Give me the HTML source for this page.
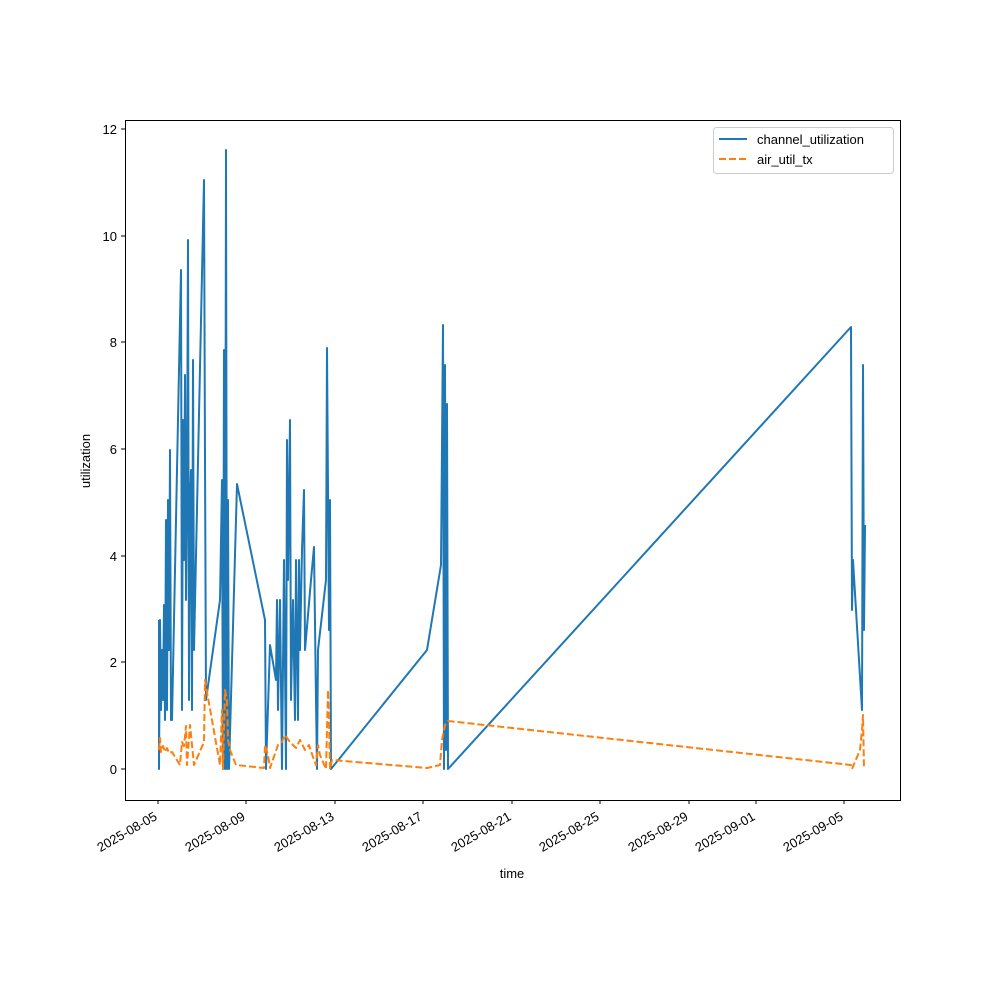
<!DOCTYPE html>
<html><head><meta charset="utf-8"><style>
html,body{margin:0;padding:0;background:#fff;}
svg text{font-family:"Liberation Sans","DejaVu Sans",sans-serif;font-size:13px;fill:#000;}
</style></head><body>
<svg width="1000" height="1000" viewBox="0 0 1000 1000" xmlns="http://www.w3.org/2000/svg">
<rect width="1000" height="1000" fill="#fff"/>
<defs><clipPath id="c"><rect x="125" y="120" width="775" height="680"/></clipPath></defs>
<g clip-path="url(#c)" fill="none" stroke-linejoin="round">
<polyline stroke="#1f77b4" stroke-width="2" points="159,620 159,769 160,620 161,710 162,650 163,700 164,605 165,720 166,520 167,710 168,500 169,650 170,450 171,720 172,720 181,270 182,710 183,420 184,560 185,375 186,600 187,490 188,240 189,700 190,500 191,470 192,710 193,360 194,650 204,180 205,460 206,700 220,600 222,480 223,769 224,350 225,769 226,150 227,769 228,500 229,769 237,484 265,620 266,769 270,645 276,680 277,600 278,710 280,600 282,769 284,560 286,769 287,440 288,580 290,420 291,700 293,600 295,720 296,560 298,720 299,560 300,650 302,550 304,490 305,650 311,580 314,547 316,700 317,769 318,650 326,580 327,348 329,630 330,500 331,769 427,650 441,565 443,325 444,769 445,365 446,750 447,404 448,769 851,327 852,610 853,560 862,710 863,365 864,630 865,525"/>
<polyline stroke="#ff7f0e" stroke-width="2" stroke-dasharray="7,3" points="159,750 160,738 161,752 163,746 165,752 167,748 169,753 172,752 180,765 182,742 184,746 186,726 187,765 190,725 192,745 194,765 204,742 205,680 207,692 220,765 222,710 223,769 225,690 227,700 228,740 230,750 236,765 264,768 265,745 268,755 270,768 278,745 282,742 285,735 290,742 296,748 300,740 305,750 309,745 313,757 316,765 318,745 320,755 326,769 328,690 329,720 330,769 332,760 427,768 440,765 442,740 445,725 448,721 851,765 852,769 860,750 862,730 863,715 864,769"/>
</g>
<rect x="125.5" y="120.5" width="775" height="680" fill="none" stroke="#000" stroke-width="1"/>
<g stroke="#000" stroke-width="1">
<line x1="125" x2="121" y1="769" y2="769"/><line x1="125" x2="121" y1="662" y2="662"/><line x1="125" x2="121" y1="556" y2="556"/><line x1="125" x2="121" y1="449" y2="449"/><line x1="125" x2="121" y1="342" y2="342"/><line x1="125" x2="121" y1="236" y2="236"/><line x1="125" x2="121" y1="129" y2="129"/>
<line x1="158" x2="158" y1="800" y2="804"/><line x1="246" x2="246" y1="800" y2="804"/><line x1="335" x2="335" y1="800" y2="804"/><line x1="423" x2="423" y1="800" y2="804"/><line x1="512" x2="512" y1="800" y2="804"/><line x1="600" x2="600" y1="800" y2="804"/><line x1="689" x2="689" y1="800" y2="804"/><line x1="756" x2="756" y1="800" y2="804"/><line x1="844" x2="844" y1="800" y2="804"/>
</g>
<g text-anchor="end">
<text x="117" y="774">0</text><text x="117" y="667">2</text><text x="117" y="561">4</text><text x="117" y="454">6</text><text x="117" y="347">8</text><text x="117" y="241">10</text><text x="117" y="134">12</text>
</g>
<g text-anchor="end">
<text transform="translate(158,819) rotate(-30)">2025-08-05</text>
<text transform="translate(246,819) rotate(-30)">2025-08-09</text>
<text transform="translate(335,819) rotate(-30)">2025-08-13</text>
<text transform="translate(423,819) rotate(-30)">2025-08-17</text>
<text transform="translate(512,819) rotate(-30)">2025-08-21</text>
<text transform="translate(600,819) rotate(-30)">2025-08-25</text>
<text transform="translate(689,819) rotate(-30)">2025-08-29</text>
<text transform="translate(756,819) rotate(-30)">2025-09-01</text>
<text transform="translate(844,819) rotate(-30)">2025-09-05</text>
</g>
<text x="512" y="878" text-anchor="middle">time</text>
<text transform="translate(90,461) rotate(-90)" text-anchor="middle">utilization</text>
<rect x="713.5" y="127.5" width="180" height="46" rx="3" fill="#fff" stroke="#ccc"/>
<line x1="719" x2="747" y1="139" y2="139" stroke="#1f77b4" stroke-width="2"/>
<line x1="719" x2="747" y1="159" y2="159" stroke="#ff7f0e" stroke-width="2" stroke-dasharray="7,3"/>
<text x="757" y="144">channel_utilization</text>
<text x="757" y="164">air_util_tx</text>
</svg>
</body></html>
